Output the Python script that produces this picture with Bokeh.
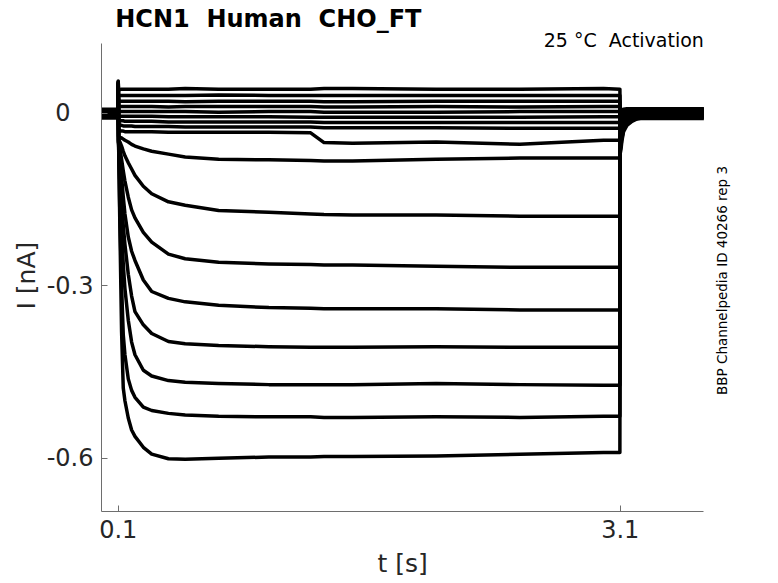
import math
from bokeh.plotting import figure
from bokeh.models import Range1d, FixedTicker, Label, Title
from bokeh.embed import file_html
from bokeh.resources import INLINE

# ---------------- data ----------------
# time grids [s]
T_PRE = [0.0, 0.099]
T_STEP = [0.1, 0.102, 0.11, 0.12, 0.13, 0.14, 0.16, 0.18, 0.2, 0.25, 0.3,
          0.4, 0.5, 0.7, 1.0, 1.25, 1.33, 1.5, 2.0, 2.5, 3.0, 3.098]
T_TAIL = [3.1, 3.105, 3.11, 3.12, 3.14, 3.17, 3.2, 3.25, 3.3, 3.4, 3.5, 3.6]

# holding level before the step, one per sweep [nA]
PRE_LEVEL = [0.006, -0.004, 0.002, -0.007, 0.004, 0.000, -0.003, 0.007, -0.006,
             0.003, -0.001, 0.005, -0.005, 0.001, -0.002, 0.004, -0.008]

# currents during the activation step [nA]
I01 = [0.056, 0.040, 0.041, 0.042, 0.042, 0.042, 0.042, 0.042, 0.042, 0.042, 0.042,
       0.042, 0.043, 0.042, 0.042, 0.042, 0.043, 0.043, 0.042, 0.042, 0.043, 0.042]
I02 = [0.055, 0.030, 0.031, 0.031, 0.031, 0.031, 0.031, 0.031, 0.031, 0.031, 0.031,
       0.031, 0.031, 0.032, 0.031, 0.031, 0.031, 0.031, 0.031, 0.031, 0.031, 0.031]
I03 = [0.054, 0.020, 0.021, 0.021, 0.021, 0.021, 0.021, 0.021, 0.021, 0.021, 0.021,
       0.021, 0.020, 0.021, 0.021, 0.021, 0.020, 0.020, 0.021, 0.021, 0.021, 0.021]
I04 = [0.053, 0.011, 0.012, 0.012, 0.012, 0.012, 0.012, 0.012, 0.012, 0.012, 0.012,
       0.011, 0.012, 0.012, 0.012, 0.012, 0.011, 0.011, 0.012, 0.011, 0.012, 0.012]
I05 = [0.052, 0.003, 0.003, 0.003, 0.003, 0.003, 0.003, 0.003, 0.003, 0.003, 0.003,
       0.003, 0.003, 0.002, 0.003, 0.003, 0.002, 0.002, 0.002, 0.003, 0.003, 0.003]
I06 = [0.051, -0.004, -0.005, -0.005, -0.005, -0.005, -0.005, -0.005, -0.005, -0.005, -0.005,
       -0.006, -0.006, -0.006, -0.006, -0.007, -0.007, -0.007, -0.007, -0.007, -0.006, -0.006]
I07 = [0.050, -0.012, -0.013, -0.013, -0.013, -0.014, -0.014, -0.014, -0.014, -0.014, -0.014,
       -0.015, -0.015, -0.015, -0.015, -0.015, -0.016, -0.016, -0.016, -0.016, -0.016, -0.016]
I08 = [0.049, -0.020, -0.021, -0.021, -0.022, -0.022, -0.022, -0.022, -0.023, -0.023, -0.023,
       -0.023, -0.024, -0.024, -0.024, -0.024, -0.025, -0.025, -0.025, -0.026, -0.026, -0.026]
I09 = [0.048, -0.028, -0.030, -0.031, -0.031, -0.032, -0.032, -0.032, -0.032, -0.032, -0.032,
       -0.033, -0.033, -0.033, -0.033, -0.034, -0.051, -0.052, -0.050, -0.054, -0.047, -0.047]
I10 = [0.047, -0.040, -0.042, -0.043, -0.045, -0.047, -0.050, -0.054, -0.057, -0.062, -0.066,
       -0.071, -0.076, -0.080, -0.081, -0.082, -0.083, -0.083, -0.080, -0.078, -0.078, -0.078]
I11 = [0.046, -0.047, -0.050, -0.057, -0.066, -0.074, -0.086, -0.097, -0.108, -0.127, -0.140,
       -0.154, -0.160, -0.169, -0.172, -0.175, -0.176, -0.177, -0.177, -0.179, -0.179, -0.179]
I12 = [0.045, -0.050, -0.062, -0.080, -0.100, -0.118, -0.146, -0.168, -0.182, -0.207, -0.224,
       -0.245, -0.253, -0.259, -0.262, -0.263, -0.264, -0.264, -0.266, -0.268, -0.268, -0.268]
I13 = [0.044, -0.050, -0.075, -0.110, -0.145, -0.175, -0.215, -0.240, -0.256, -0.290, -0.310,
       -0.322, -0.328, -0.334, -0.338, -0.339, -0.340, -0.340, -0.340, -0.342, -0.342, -0.342]
I14 = [0.043, -0.050, -0.095, -0.150, -0.195, -0.228, -0.280, -0.318, -0.345, -0.368, -0.383,
       -0.397, -0.401, -0.404, -0.406, -0.407, -0.407, -0.407, -0.406, -0.407, -0.407, -0.407]
I15 = [0.042, -0.050, -0.125, -0.200, -0.262, -0.305, -0.360, -0.398, -0.420, -0.447, -0.457,
       -0.465, -0.468, -0.470, -0.472, -0.472, -0.472, -0.472, -0.470, -0.472, -0.473, -0.473]
I16 = [0.041, -0.050, -0.180, -0.300, -0.385, -0.420, -0.462, -0.482, -0.494, -0.511, -0.517,
       -0.522, -0.525, -0.527, -0.528, -0.528, -0.529, -0.529, -0.528, -0.529, -0.527, -0.527]
I17 = [0.040, -0.050, -0.200, -0.380, -0.478, -0.500, -0.530, -0.551, -0.562, -0.581, -0.593,
       -0.601, -0.602, -0.600, -0.598, -0.598, -0.597, -0.597, -0.596, -0.593, -0.590, -0.590]

# tail currents after the step [nA]
TAIL01 = [-0.009] * 12
TAIL02 = [-0.007] * 12
TAIL03 = [-0.005] * 12
TAIL04 = [-0.003] * 12
TAIL05 = [-0.001] * 12
TAIL06 = [0.002] * 12
TAIL07 = [0.002, 0.004, 0.006, 0.007, 0.008, 0.008, 0.008, 0.008, 0.008, 0.008, 0.008, 0.008]
TAIL08 = [0.000, 0.002, 0.004, 0.005, 0.006, 0.007, 0.007, 0.007, 0.007, 0.007, 0.007, 0.007]
TAIL09 = [-0.005, -0.004, -0.002, 0.000, 0.002, 0.003, 0.004, 0.005, 0.006, 0.006, 0.006, 0.006]
TAIL10 = [-0.010, -0.008, -0.006, -0.003, -0.001, 0.001, 0.002, 0.003, 0.004, 0.004, 0.005, 0.005]
TAIL11 = [-0.021, -0.018, -0.014, -0.009, -0.005, -0.002, 0.000, 0.001, 0.002, 0.003, 0.003, 0.003]
TAIL12 = [-0.032, -0.027, -0.021, -0.013, -0.008, -0.005, -0.002, -0.001, 0.000, 0.001, 0.002, 0.002]
TAIL13 = [-0.042, -0.036, -0.028, -0.018, -0.011, -0.007, -0.004, -0.002, -0.001, 0.000, 0.001, 0.001]
TAIL14 = [-0.050, -0.043, -0.034, -0.022, -0.014, -0.009, -0.006, -0.004, -0.002, -0.001, 0.000, 0.000]
TAIL15 = [-0.058, -0.050, -0.040, -0.026, -0.017, -0.011, -0.008, -0.005, -0.003, -0.002, -0.001, -0.001]
TAIL16 = [-0.064, -0.056, -0.044, -0.029, -0.019, -0.013, -0.009, -0.006, -0.004, -0.003, -0.002, -0.002]
TAIL17 = [-0.070, -0.062, -0.048, -0.032, -0.021, -0.014, -0.010, -0.007, -0.005, -0.004, -0.003, -0.003]

STEPS = [I01, I02, I03, I04, I05, I06, I07, I08, I09, I10, I11, I12, I13, I14, I15, I16, I17]
TAILS = [TAIL01, TAIL02, TAIL03, TAIL04, TAIL05, TAIL06, TAIL07, TAIL08, TAIL09,
         TAIL10, TAIL11, TAIL12, TAIL13, TAIL14, TAIL15, TAIL16, TAIL17]

X_LIM = (0.0, 3.6)
Y_LIM = (-0.6927, 0.1207)
X_TICKS = [0.1, 3.1]
Y_TICKS = [0, -0.3, -0.6]
NB = "\u00a0"
Y_TICK_LABELS = {0: "0" + NB * 3, -0.3: "-0.3", -0.6: "-0.6"}

TITLE = "HCN1" + NB + " Human" + NB + " CHO_FT"
CONDITION = "25 °C" + NB + " Activation"
SOURCE = "BBP Channelpedia ID 40266 rep 3"
X_LABEL = "t [s]"
Y_LABEL = "I [nA]"

# ---------------- figure ----------------
FONT = "DejaVu Sans"
AX_COLOR = "#6e6e6e"
TXT_COLOR = "#262626"

# frame spans to the top/right page edges so that the annotation texts are not
# clipped; the visible axes are limited to X_LIM / Y_LIM with axis bounds.
W, H = 778, 583
LEFT, BOTTOM = 101, 71
PX_PER_S = 167.33
PX_PER_NA = 576.0
x_end = X_LIM[0] + (W - LEFT) / PX_PER_S
y_end = Y_LIM[0] + (H - BOTTOM) / PX_PER_NA

p = figure(width=W, height=H, output_backend="svg", toolbar_location=None,
           x_range=Range1d(X_LIM[0], x_end), y_range=Range1d(Y_LIM[0], y_end),
           min_border_left=LEFT, min_border_right=0, min_border_top=0,
           min_border_bottom=BOTTOM)
p.outline_line_color = None
p.xgrid.visible = False
p.ygrid.visible = False
p.background_fill_color = "white"
p.border_fill_color = "white"

xs, ys = [], []
for lvl, step, tail in zip(PRE_LEVEL, STEPS, TAILS):
    xs.append(T_PRE + T_STEP + T_TAIL)
    ys.append([lvl] * len(T_PRE) + step + tail)
p.multi_line(xs, ys, line_color="black", line_width=3.5, line_join="round")

for ax in (p.xaxis[0], p.yaxis[0]):
    ax.axis_line_color = AX_COLOR
    ax.major_tick_line_color = AX_COLOR
    ax.major_tick_in = 6
    ax.major_tick_out = 0
    ax.minor_tick_line_color = None
    ax.major_label_text_font = FONT
    ax.major_label_text_font_size = "24px"
    ax.major_label_text_color = TXT_COLOR

p.xaxis.bounds = X_LIM
p.yaxis.bounds = Y_LIM
p.xaxis.ticker = FixedTicker(ticks=X_TICKS)
p.yaxis.ticker = FixedTicker(ticks=Y_TICKS)
p.yaxis.major_label_overrides = Y_TICK_LABELS
p.xaxis.major_label_standoff = 8
p.yaxis.major_label_standoff = 8

# axis titles placed along the visible part of the axes
p.add_layout(Title(text=X_LABEL, text_font=FONT, text_font_size="25px",
                   text_font_style="normal", text_color=TXT_COLOR,
                   align="left", offset=276, standoff=12,
                   vertical_align="bottom"), "below")
p.add_layout(Title(text=Y_LABEL, text_font=FONT, text_font_size="25px",
                   text_font_style="normal", text_color=TXT_COLOR,
                   align="left", offset=202, standoff=4,
                   vertical_align="middle"), "left")

p.add_layout(Label(x=0.0819, y=0.164, text=TITLE, text_font=FONT,
                   text_font_size="24px", text_font_style="bold",
                   text_color="black", text_align="left",
                   text_baseline="alphabetic"))
p.add_layout(Label(x=3.6, y=0.1276, text=CONDITION, text_font=FONT,
                   text_font_size="19px", text_color="black",
                   text_align="right", text_baseline="alphabetic"))
p.add_layout(Label(x=3.709, y=-0.2908, text=SOURCE, text_font=FONT,
                   text_font_size="13.5px", text_color="black", angle=math.pi / 2,
                   text_align="center", text_baseline="middle"))

open("out.html", "w").write(file_html(p, INLINE))
